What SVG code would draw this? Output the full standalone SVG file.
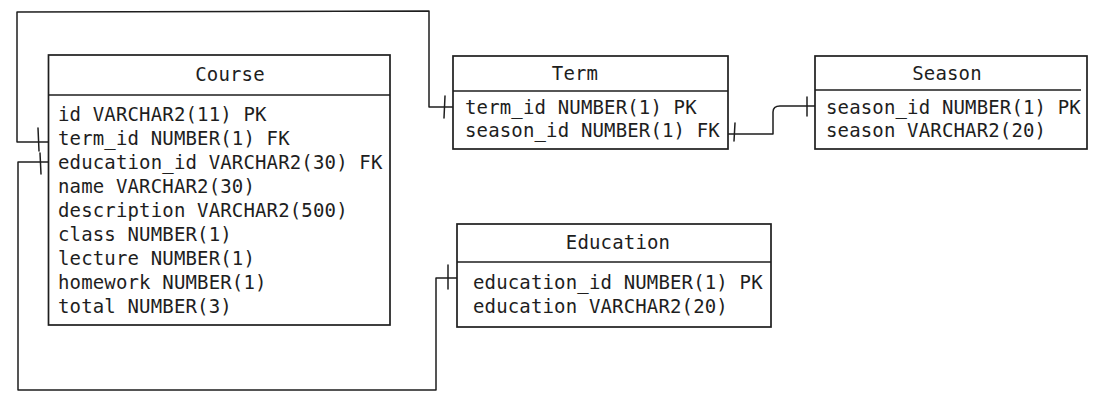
<svg xmlns="http://www.w3.org/2000/svg" width="1096" height="400" viewBox="0 0 1096 400">
<style>
.box{fill:#ffffff;stroke:#1e1e1e;stroke-width:1.7}
.div{fill:none;stroke:#1e1e1e;stroke-width:1.7}
.t{font-family:"DejaVu Sans Mono","Liberation Mono",monospace;font-size:19px;letter-spacing:0.15px;fill:#1e1e1e}
.title{text-anchor:middle}
.conn{fill:none;stroke:#1e1e1e;stroke-width:1.5;stroke-linejoin:round;stroke-linecap:round}
</style>
<rect width="1096" height="400" fill="#ffffff"/>
<g id="connectors">
  <path class="conn" d="M48,142 L17,142 L17,12 L429,11 L429,107 L453,107"/>
  <path class="conn" d="M38,128 L39,151"/>
  <path class="conn" d="M445,96 L444,118"/>
  <path class="conn" d="M48,162 L18,162 L18,390 L436,390 L436,278 L457,278"/>
  <path class="conn" d="M40,153 L41,174"/>
  <path class="conn" d="M448,265 L448,289"/>
  <path class="conn" d="M728,134 L773,134 L773,112 Q773,106 780,106 L815,106"/>
  <path class="conn" d="M735,123 L734,141"/>
  <path class="conn" d="M807,97 L807,116"/>
</g>
<g id="course">
  <rect class="box" x="48.5" y="55" width="341.5" height="270"/>
  <line class="div" x1="48.5" y1="95" x2="390" y2="95"/>
  <text class="t title" x="230" y="81">Course</text>
  <text class="t" x="58" y="121">id VARCHAR2(11) PK</text>
  <text class="t" x="58" y="145">term_id NUMBER(1) FK</text>
  <text class="t" x="58" y="169">education_id VARCHAR2(30) FK</text>
  <text class="t" x="58" y="193">name VARCHAR2(30)</text>
  <text class="t" x="58" y="217">description VARCHAR2(500)</text>
  <text class="t" x="58" y="241">class NUMBER(1)</text>
  <text class="t" x="58" y="265">lecture NUMBER(1)</text>
  <text class="t" x="58" y="289">homework NUMBER(1)</text>
  <text class="t" x="58" y="313">total NUMBER(3)</text>
</g>
<g id="term">
  <rect class="box" x="453" y="56" width="275" height="93"/>
  <line class="div" x1="453" y1="91" x2="728" y2="91"/>
  <text class="t title" x="575" y="80">Term</text>
  <text class="t" x="465" y="114">term_id NUMBER(1) PK</text>
  <text class="t" x="465" y="137">season_id NUMBER(1) FK</text>
</g>
<g id="season">
  <rect class="box" x="815" y="56" width="272" height="93"/>
  <line class="div" x1="815" y1="90" x2="1081" y2="90"/>
  <text class="t title" x="947" y="80">Season</text>
  <text class="t" x="826" y="114">season_id NUMBER(1) PK</text>
  <text class="t" x="826" y="137">season VARCHAR2(20)</text>
</g>
<g id="education">
  <rect class="box" x="457" y="224" width="314" height="103"/>
  <line class="div" x1="457" y1="262" x2="771" y2="262"/>
  <text class="t title" x="618" y="249">Education</text>
  <text class="t" x="473" y="289">education_id NUMBER(1) PK</text>
  <text class="t" x="473" y="313">education VARCHAR2(20)</text>
</g>
</svg>
